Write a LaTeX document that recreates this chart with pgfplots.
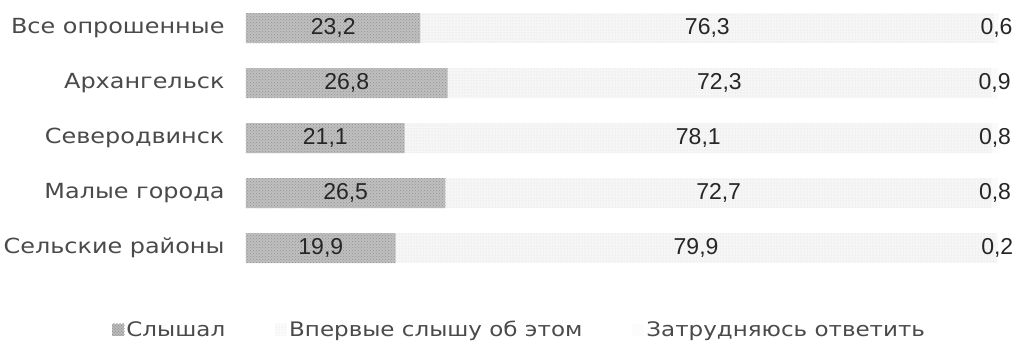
\documentclass[border=0pt]{standalone}
\usepackage{pgfplots}
\pgfplotsset{compat=1.18}
\usetikzlibrary{patterns}
\usepackage{fontspec}
\setmainfont{DejaVu Sans}[FakeStretch=1.15]
\newfontfamily\numfont{Liberation Sans}
\definecolor{txt}{HTML}{4a4a4a}
\begin{document}
\begin{tikzpicture}
\begin{axis}[
  at={(246pt,75pt)}, anchor=south west,
  scale only axis, width=752pt, height=264pt,
  xbar stacked, bar width=30pt,
  xmin=0, xmax=100, ymin=-0.4, ymax=4.4, y dir=reverse,
  clip=false,
  axis line style={draw=none}, major tick length=0pt,
  xtick=\empty,
  ytick={0,1,2,3,4},
  yticklabels={Все опрошенные,Архангельск,Северодвинск,Малые города,Сельские районы},
  yticklabel style={font=\fontsize{20.8}{22}\selectfont, text=txt, xshift=-18pt},
  point meta=explicit symbolic,
  nodes near coords,
  every node near coord/.append style={font=\numfont\fontsize{23}{25}\selectfont, text=black!85},
  legend style={at={(0.364,-0.227)}, anchor=center, legend columns=3, draw=none, fill=none,
    font=\fontsize{20}{22}\selectfont, text=txt,
    /tikz/every even column/.append style={column sep=48pt}},
]
\addplot[draw=none, fill=gray!50, postaction={pattern=crosshatch dots, pattern color=gray!85},
  legend image code/.code={\fill[gray!50] (0pt,-6pt) rectangle (12pt,6pt);
    \fill[pattern=crosshatch dots, pattern color=gray!85] (0pt,-6pt) rectangle (12pt,6pt);}]
  coordinates {(23.2,0) [23,2] (26.8,1) [26,8] (21.1,2) [21,1] (26.5,3) [26,5] (19.9,4) [19,9]};
\addplot[draw=none, fill=gray!7, postaction={pattern=dots, pattern color=gray!30},
  legend image code/.code={\fill[gray!3] (0pt,-6pt) rectangle (12pt,6pt);}]
  coordinates {(76.3,0) [76,3] (72.3,1) [72,3] (78.1,2) [78,1] (72.7,3) [72,7] (79.9,4) [79,9]};
\addplot[draw=none, fill=gray!4,
  legend image code/.code={\fill[gray!2] (0pt,-6pt) rectangle (12pt,6pt);}]
  coordinates {(0.6,0) [0,6] (0.9,1) [0,9] (0.8,2) [0,8] (0.8,3) [0,8] (0.2,4) [0,2]};
\legend{Слышал,Впервые слышу об этом,Затрудняюсь ответить}
\end{axis}
\pgfresetboundingbox
\useasboundingbox (0,0) rectangle (1018pt,345pt);
\end{tikzpicture}
\end{document}
